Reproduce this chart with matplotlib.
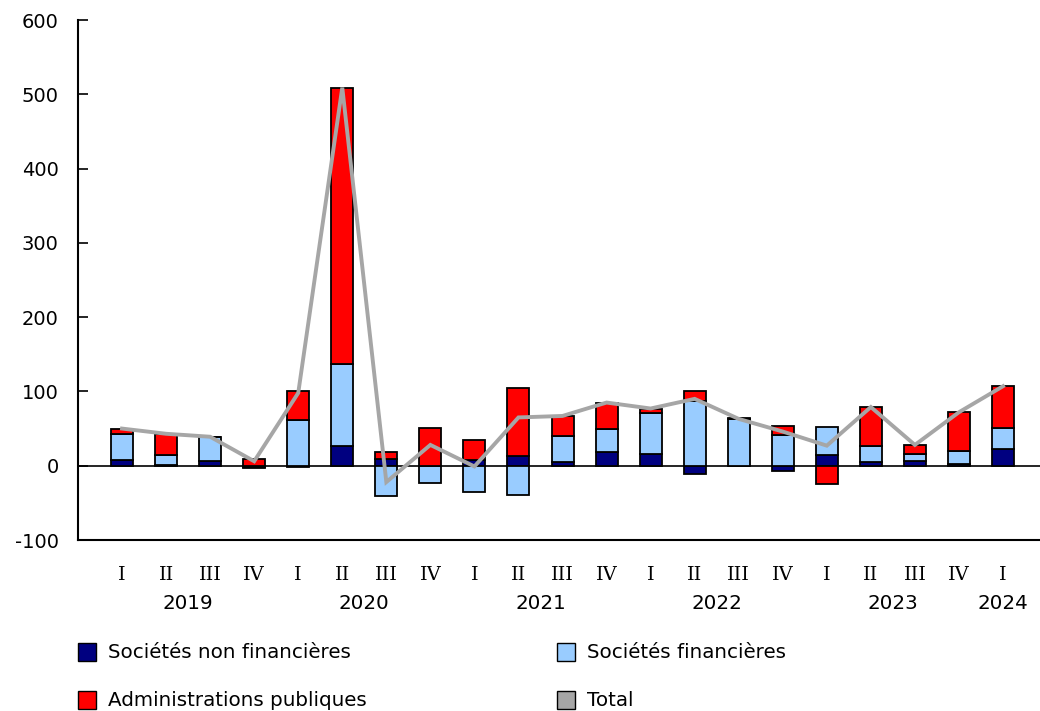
import numpy as np
import matplotlib
matplotlib.use("Agg")
import matplotlib.pyplot as plt
from matplotlib.patches import Rectangle

plt.rcParams['font.family'] = ['DejaVu Sans']
plt.rcParams['axes.unicode_minus'] = False

quarters = ["I", "II", "III", "IV", "I", "II", "III", "IV", "I", "II", "III", "IV",
            "I", "II", "III", "IV", "I", "II", "III", "IV", "I"]
years = ["2019", "2020", "2021", "2022", "2023", "2024"]
year_pos = [1.5, 5.5, 9.5, 13.5, 17.5, 20]

nonfin = [8, 1, 7, -2, -2, 26, 9, 0, 8, 13, 5, 18, 16, -11, -1, -7, 15, 5, 7, 2, 23]
fin = [35, 14, 31, -1, 61, 111, -41, -23, -36, -40, 35, 32, 55, 87, 63, 41, 37, 22, 9, 18, 28]
gov = [7, 28, 1, 9, 39, 372, 10, 51, 27, 92, 27, 35, 6, 14, 1, 12, -25, 52, 12, 52, 56]
total = [50, 43, 39, 6, 98, 509, -22, 28, -1, 65, 67, 85, 77, 90, 63, 46, 27, 79, 28, 72, 107]

series = [
    ("Sociétés non financières", nonfin, "#000080"),
    ("Sociétés financières", fin, "#99ccff"),
    ("Administrations publiques", gov, "#ff0000"),
]

fig = plt.figure(figsize=(10.4, 7.11), dpi=100)
W, H = 1040, 711
ax = fig.add_axes([78 / W, 1 - 540 / H, 1 - 78 / W, (540 - 20) / H])

x = np.arange(len(quarters))
pos_base = np.zeros(len(x))
neg_base = np.zeros(len(x))
for name, vals, col in series:
    v = np.array(vals, dtype=float)
    bottom = np.where(v >= 0, pos_base, neg_base)
    ax.bar(x, v, width=0.5, bottom=bottom, color=col, edgecolor="black",
           linewidth=1.3, zorder=3)
    pos_base = pos_base + np.where(v >= 0, v, 0)
    neg_base = neg_base + np.where(v < 0, v, 0)

ax.axhline(0, color="black", linewidth=1.2, zorder=2)
ax.plot(x, total, color="#a6a6a6", linewidth=2.8, zorder=4, solid_joinstyle="miter")

ax.set_xlim(-1.0, 20.84)
ax.set_ylim(-100, 600)
ax.set_yticks(np.arange(-100, 601, 100))
ax.tick_params(axis="y", direction="in", length=7, width=1.2, labelsize=14, pad=14)
ax.set_xticks([])
for s in ["top", "right"]:
    ax.spines[s].set_visible(False)
for s in ["left", "bottom"]:
    ax.spines[s].set_linewidth(1.5)

trans = ax.get_xaxis_transform()
for i, q in enumerate(quarters):
    ax.text(i, -0.067, q, transform=trans, ha="center", va="center",
            fontsize=14, family="DejaVu Serif")
for p, yv in zip(year_pos, years):
    ax.text(p, -0.123, yv, transform=trans, ha="center", va="center", fontsize=14.3)

# legend
leg_items = [
    ("Sociétés non financières", "#000080", 78, 652),
    ("Sociétés financières", "#99ccff", 557, 652),
    ("Administrations publiques", "#ff0000", 78, 700),
    ("Total", "#a6a6a6", 557, 700),
]
for name, col, px, py in leg_items:
    fig.add_artist(Rectangle((px / W, 1 - (py + 9) / H), 18 / W, 18 / H,
                             facecolor=col, edgecolor="black", linewidth=1.0,
                             transform=fig.transFigure))
    fig.text((px + 30) / W, 1 - py / H, name, ha="left", va="center", fontsize=14.3)

fig.savefig("out.png", dpi=100)
